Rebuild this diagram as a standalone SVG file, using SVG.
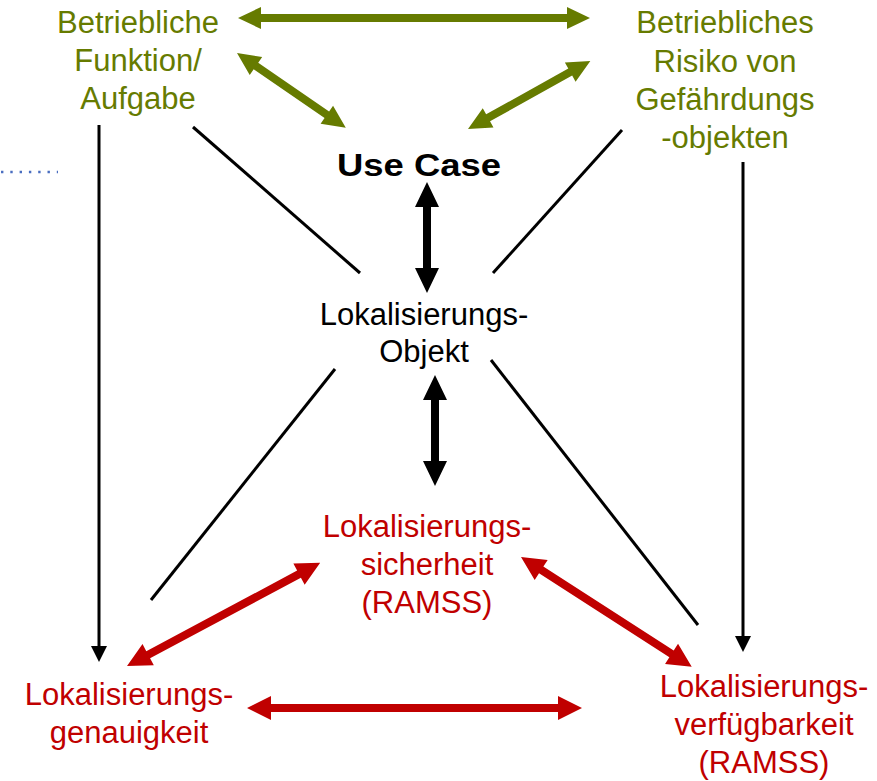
<svg xmlns="http://www.w3.org/2000/svg" width="877" height="781" viewBox="0 0 877 781">
  <style>
    .lbl { font-family: "Liberation Sans", Arial, sans-serif; font-size: 31px; text-anchor: middle; }
    .green { fill: #667B00; }
    .red { fill: #C00000; }
    .black { fill: #000000; }
    .thin { stroke: #000000; stroke-width: 3; fill: none; }
    .ga { fill: #667B00; }
    .ba { fill: #000000; }
    .ra { fill: #C00000; }
  </style>
  <rect width="877" height="781" fill="#ffffff"/>

  <!-- dotted leader at left edge -->
  <line x1="1" y1="172" x2="58" y2="172" stroke="#4A6EC0" stroke-width="2.6" stroke-dasharray="2.4 6.9"/>

  <g id="connectors">
    <!-- thin links -->
    <line class="thin" x1="193" y1="127" x2="360" y2="273"/>
    <line class="thin" x1="622" y1="130" x2="493" y2="273"/>
    <line class="thin" x1="335" y1="369" x2="151" y2="600"/>
    <line class="thin" x1="491" y1="360" x2="698" y2="625"/>
    <!-- thin vertical arrows -->
    <line class="thin" x1="99" y1="125" x2="99" y2="648"/>
    <polygon class="ba" points="91,646 107,646 99,662"/>
    <line class="thin" x1="743" y1="162" x2="743" y2="638"/>
    <polygon class="ba" points="735,636 751,636 743,652"/>

    <!-- green double arrows -->
    <polygon class="ga" transform="translate(238,18)" points="0,0 23,-11 23,-4 329,-4 329,-11 352,0 329,11 329,4 23,4 23,11"/>
    <polygon class="ga" transform="translate(237,53) rotate(34.5)" points="0,0 23,-11 23,-4 109,-4 109,-11 132,0 109,11 109,4 23,4 23,11"/>
    <polygon class="ga" transform="translate(468,129) rotate(-29.1)" points="0,0 23,-11 23,-4 117,-4 117,-11 140,0 117,11 117,4 23,4 23,11"/>

    <!-- black double arrows -->
    <polygon class="ba" transform="translate(427,182) rotate(90)" points="0,0 25,-12 25,-4 86,-4 86,-12 111,0 86,12 86,4 25,4 25,12"/>
    <polygon class="ba" transform="translate(435,375) rotate(90)" points="0,0 25,-12 25,-4 86,-4 86,-12 111,0 86,12 86,4 25,4 25,12"/>

    <!-- red double arrows -->
    <polygon class="ra" transform="translate(127,666) rotate(-28.1)" points="0,0 24,-12 24,-4 195,-4 195,-12 219,0 195,12 195,4 24,4 24,12"/>
    <polygon class="ra" transform="translate(521,557) rotate(32.75)" points="0,0 24,-12 24,-4 179,-4 179,-12 203,0 179,12 179,4 24,4 24,12"/>
    <polygon class="ra" transform="translate(247,708)" points="0,0 24,-12 24,-4 311,-4 311,-12 335,0 311,12 311,4 24,4 24,12"/>
  </g>

  <g id="funktion">
    <text class="lbl green" x="138" y="33">Betriebliche</text>
    <text class="lbl green" x="138" y="71">Funktion/</text>
    <text class="lbl green" x="138" y="109">Aufgabe</text>
  </g>

  <g id="risiko">
    <text class="lbl green" x="725" y="33">Betriebliches</text>
    <text class="lbl green" x="725" y="72">Risiko von</text>
    <text class="lbl green" x="725" y="110">Gefährdungs</text>
    <text class="lbl green" x="725" y="148">-objekten</text>
  </g>

  <g id="usecase">
    <text class="lbl black" x="419" y="176" font-weight="bold" font-size="35" textLength="164" lengthAdjust="spacingAndGlyphs">Use Case</text>
  </g>

  <g id="objekt">
    <text class="lbl black" x="424" y="325">Lokalisierungs-</text>
    <text class="lbl black" x="424" y="362">Objekt</text>
  </g>

  <g id="sicherheit">
    <text class="lbl red" x="427" y="537">Lokalisierungs-</text>
    <text class="lbl red" x="427" y="575">sicherheit</text>
    <text class="lbl red" x="427" y="613">(RAMSS)</text>
  </g>

  <g id="genauigkeit">
    <text class="lbl red" x="129" y="705">Lokalisierungs-</text>
    <text class="lbl red" x="129" y="743">genauigkeit</text>
  </g>

  <g id="verfuegbarkeit">
    <text class="lbl red" x="764" y="697">Lokalisierungs-</text>
    <text class="lbl red" x="764" y="735">verfügbarkeit</text>
    <text class="lbl red" x="764" y="773">(RAMSS)</text>
  </g>
</svg>
